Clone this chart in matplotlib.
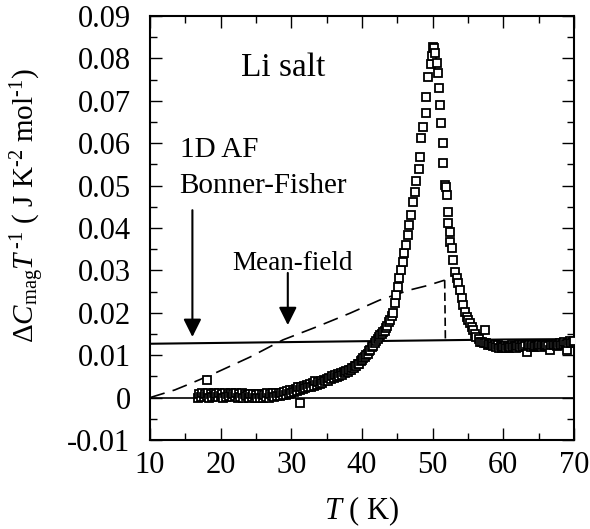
import numpy as np
import matplotlib
matplotlib.use("Agg")
import matplotlib.pyplot as plt

plt.rcParams['font.family'] = ['Liberation Serif', 'DejaVu Serif']
plt.rcParams['mathtext.fontset'] = 'custom'
plt.rcParams['mathtext.rm'] = 'Liberation Serif'
plt.rcParams['mathtext.it'] = 'Liberation Serif:italic'
plt.rcParams['axes.unicode_minus'] = False
plt.rcParams['lines.scale_dashes'] = False

# ---- data ----
T_low = [16.8, 17.0, 17.2, 17.4, 17.6, 17.8, 18.0, 18.2, 18.4, 18.6, 18.8, 19.0, 19.2, 19.4,
         19.6, 19.8, 20.0, 20.2, 20.4, 20.6, 20.8, 21.0, 21.2, 21.4, 21.6, 21.8, 22.0, 22.2,
         22.4, 22.6, 22.8, 23.0, 23.2, 23.4, 23.6, 23.8, 24.0, 24.2, 24.4, 24.6, 24.8, 25.0,
         25.2, 25.4, 25.6, 25.8, 26.0, 26.2, 26.4, 26.6, 26.8, 27.0, 27.2, 27.4, 27.6, 27.8,
         28.0, 28.2, 28.4, 28.6, 28.8, 29.0, 29.2, 29.4, 29.6, 29.8, 30.0, 30.2, 30.4, 30.6,
         30.8, 31.0, 31.2, 31.4, 31.6, 31.8, 32.0, 32.2, 32.4, 32.6, 32.8, 33.0, 33.2, 33.4,
         33.6, 33.8, 34.0, 34.2, 34.4, 34.6, 34.8, 35.0, 35.2, 35.4, 35.6, 35.8, 36.0, 36.2,
         36.4, 36.6, 36.8, 37.0, 37.2, 37.4, 37.6, 37.8, 38.0, 38.2, 38.4, 38.6, 38.8, 39.0,
         39.2, 39.4, 39.6, 39.8, 40.0, 40.2, 40.4, 40.6, 40.8, 41.0, 41.2, 41.4, 41.6, 41.8,
         42.0, 42.2, 42.4, 42.6, 42.8, 43.0, 43.2, 43.4, 43.6, 43.8, 44.0, 44.2]
C_low = [0.0000, 0.0008, 0.0002, 0.0010, 0.0001, 0.0009, 0.0003, 0.0011, 0.0000, 0.0008,
         0.0002, 0.0010, 0.0004, 0.0009, 0.0001, 0.0011, 0.0003, 0.0009, 0.0000, 0.0010,
         0.0002, 0.0008, 0.0004, 0.0012, 0.0001, 0.0009, 0.0003, 0.0010, -0.0001, 0.0008,
         0.0002, 0.0011, 0.0000, 0.0009, 0.0003, 0.0007, -0.0002, 0.0008, 0.0001, 0.0009,
         -0.0001, 0.0007, -0.0002, 0.0008, 0.0000, 0.0009, -0.0001, 0.0007, 0.0002, 0.0010,
         0.0000, 0.0008, 0.0003, 0.0011, 0.0001, 0.0010, 0.0004, 0.0012, 0.0003, 0.0011,
         0.0006, 0.0014, 0.0007, 0.0015, 0.0009, 0.0017, 0.0011, 0.0019, 0.0013, 0.0021,
         0.0015, 0.0024, 0.0017, 0.0026, 0.0020, 0.0028, 0.0022, 0.0030, 0.0024, 0.0032,
         0.0026, 0.0034, 0.0028, 0.0038, 0.0030, 0.0037, 0.0033, 0.0040, 0.0035, 0.0042,
         0.0038, 0.0045, 0.0040, 0.0047, 0.0043, 0.0050, 0.0046, 0.0053, 0.0048, 0.0055,
         0.0051, 0.0057, 0.0054, 0.0060, 0.0057, 0.0063, 0.0060, 0.0066, 0.0064, 0.0070,
         0.0069, 0.0075, 0.0074, 0.0080, 0.0080, 0.0086, 0.0088, 0.0093, 0.0095, 0.0101,
         0.0103, 0.0110, 0.0112, 0.0119, 0.0122, 0.0128, 0.0133, 0.0138, 0.0143, 0.0147,
         0.0150, 0.0155, 0.0158, 0.0165, 0.0170, 0.0178, 0.0184, 0.0192]
T_odd = [18.1, 31.2]
C_odd = [0.0041, -0.0013]
T_rise = [44.4, 44.6, 44.8, 45.1, 45.3, 45.5, 45.8, 46.0, 46.2, 46.5, 46.7, 46.9, 47.2,
          47.5, 47.7, 48.1, 48.2, 48.4, 48.7, 49.0, 49.1, 49.4, 49.7, 49.9, 50.0, 50.2]
C_rise = [0.0199, 0.0223, 0.0242, 0.0261, 0.0282, 0.0300, 0.0320, 0.0340, 0.0360, 0.0383,
          0.0407, 0.0430, 0.0461, 0.0484, 0.0510, 0.0540, 0.0568, 0.0612, 0.0639, 0.0671,
          0.0710, 0.0757, 0.0786, 0.0805, 0.0828, 0.0825]
T_fall = [50.4, 50.6, 50.7, 50.9, 51.0, 51.2, 51.4, 51.5, 51.7, 51.9, 52.0, 52.1, 52.2,
          52.4, 52.5, 52.7, 52.9, 53.2, 53.4, 53.6, 53.9, 54.1, 54.3, 54.6, 54.8, 55.0,
          55.3, 55.5, 55.7, 56.0, 56.2, 56.5, 56.7, 57.0, 57.4]
C_fall = [0.0812, 0.0788, 0.0765, 0.0730, 0.0690, 0.0647, 0.0600, 0.0553, 0.0501, 0.0497,
          0.0478, 0.0438, 0.0411, 0.0391, 0.0368, 0.0352, 0.0325, 0.0297, 0.0281, 0.0270,
          0.0254, 0.0234, 0.0218, 0.0203, 0.0191, 0.0183, 0.0175, 0.0167, 0.0159, 0.0150,
          0.0144, 0.0138, 0.0132, 0.0130, 0.0159]
T_tail = [57.2, 57.6, 57.8, 58.0, 58.2, 58.4, 58.6, 58.8, 59.0, 59.2, 59.4, 59.6, 59.8,
          60.0, 60.2, 60.4, 60.6, 60.8, 61.0, 61.2, 61.4, 61.6, 61.8, 62.0, 62.2, 62.4,
          62.6, 62.8, 63.0, 63.3, 63.5, 63.7, 63.9, 64.1, 64.3, 64.5, 64.7, 64.9, 65.1,
          65.3, 65.5, 65.7, 65.9, 66.1, 66.3, 66.6, 66.8, 67.0, 67.2, 67.4, 67.6, 67.8,
          68.0, 68.2, 68.4, 68.6, 68.8, 69.0, 69.2, 69.4, 69.6, 69.8, 70.0]
C_tail = [0.0129, 0.0128, 0.0125, 0.0127, 0.0123, 0.0126, 0.0121, 0.0124, 0.0120, 0.0123,
          0.0118, 0.0121, 0.0117, 0.0119, 0.0122, 0.0118, 0.0121, 0.0116, 0.0120, 0.0123,
          0.0119, 0.0122, 0.0118, 0.0121, 0.0124, 0.0120, 0.0123, 0.0119, 0.0122, 0.0108,
          0.0121, 0.0124, 0.0120, 0.0123, 0.0119, 0.0122, 0.0125, 0.0121, 0.0124, 0.0120,
          0.0123, 0.0126, 0.0122, 0.0125, 0.0121, 0.0112, 0.0124, 0.0127, 0.0123, 0.0126,
          0.0122, 0.0125, 0.0128, 0.0124, 0.0127, 0.0130, 0.0126, 0.0112, 0.0129, 0.0133,
          0.0128, 0.0131, 0.0134]

# 1D AF Bonner-Fisher curve
T_bf = [10, 20, 30, 40, 50, 60, 70]
C_bf = [0.0127, 0.0129, 0.0131, 0.0133, 0.0135, 0.0137, 0.0138]

# mean-field curve
T_mf = [10, 13.5, 16, 19.5, 24.2, 28.8, 33.6, 38.3, 42.5, 46.8, 49.2, 51.7]
C_mf = [0.0, 0.0018, 0.0035, 0.0060, 0.0096, 0.0136, 0.0167, 0.0199, 0.0230, 0.0254,
        0.0264, 0.0277]
T_mf_drop = [51.7, 51.8]
C_mf_drop = [0.0277, 0.0136]

xticks = [10, 20, 30, 40, 50, 60, 70]
yticks = [-0.01, 0.0, 0.01, 0.02, 0.03, 0.04, 0.05, 0.06, 0.07, 0.08, 0.09]
ytick_labels = ['-0.01', '0', '0.01', '0.02', '0.03', '0.04', '0.05', '0.06', '0.07',
                '0.08', '0.09']

# ---- figure ----
fig = plt.figure(figsize=(5.9, 5.29), dpi=100)
ax = fig.add_axes([150/590, 1-440/529, 424/590, 424/529])

ax.axhline(0, color='black', lw=1.2, zorder=1)
ax.plot(T_bf, C_bf, color='black', lw=1.5, zorder=1)
ax.plot(T_mf, C_mf, color='black', lw=1.2, dashes=(11, 6), zorder=1)
ax.plot(T_mf_drop, C_mf_drop, color='black', lw=1.2, dashes=(6, 3), zorder=1)

for Ts, Cs in [(T_low, C_low), (T_odd, C_odd), (T_rise, C_rise), (T_fall, C_fall),
               (T_tail, C_tail)]:
    ax.plot(Ts, Cs, 's', ms=5.2, mfc='white', mec='black', mew=1.3, zorder=3)

ax.set_xlim(10, 70)
ax.set_ylim(-0.01, 0.09)
ax.set_xticks(xticks)
ax.set_xticks(np.arange(15, 70, 10), minor=True)
ax.set_yticks(yticks)
ax.set_yticklabels(ytick_labels)
ax.set_yticks(np.arange(-0.005, 0.09, 0.01), minor=True)
ax.tick_params(which='both', direction='in', top=True, right=True, width=1.0)
ax.tick_params(which='major', length=8.5, labelsize=22)
ax.tick_params(which='minor', length=5)
ax.tick_params(axis='x', pad=8)
ax.tick_params(axis='y', pad=14)
for s in ax.spines.values():
    s.set_linewidth(1.5)

ax.text(28.8, 0.0778, 'Li salt', fontsize=24, ha='center', va='center')
ax.text(14.2, 0.0584, '1D AF', fontsize=21, ha='left', va='center')
ax.text(14.2, 0.0500, 'Bonner-Fisher', fontsize=21, ha='left', va='center')
ax.text(30.2, 0.0317, 'Mean-field', fontsize=19.5, ha='center', va='center')

arrow = dict(arrowstyle='-|>,head_length=0.4,head_width=0.2', color='black', lw=1.5,
             mutation_scale=27, shrinkA=0, shrinkB=0)
ax.annotate('', xy=(16.0, 0.0143), xytext=(16.0, 0.0442), arrowprops=arrow)
ax.annotate('', xy=(29.5, 0.0171), xytext=(29.5, 0.0294), arrowprops=arrow)

fig.text(28/590, 1-206/529,
         r'$\Delta C_{\rm mag}T^{\,\text{-1}}$ ( J K$^{\text{-2}}$ mol$^{\text{-1}}$)',
         rotation=90, ha='center', va='center', fontsize=21)
fig.text(362/590, 1-511/529, r'$T$ ( K)', ha='center', va='center', fontsize=22)

fig.savefig('out.png', dpi=100)
